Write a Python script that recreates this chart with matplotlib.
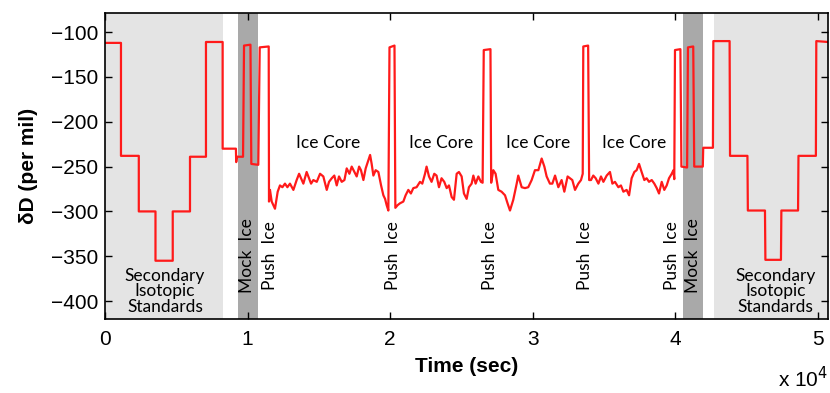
import numpy as np
import matplotlib.pyplot as plt

# time in units of 1e4 sec, dD in per mil
t_std_left = [0.0, 0.112, 0.112, 0.237, 0.237, 0.354, 0.354, 0.475, 0.475, 0.596, 0.596,
              0.708, 0.708, 0.825, 0.825, 0.918, 0.920, 0.925, 0.968, 0.975, 1.020, 1.026,
              1.075, 1.085, 1.148]
d_std_left = [-112, -112, -238, -238, -300, -300, -355, -355, -300, -300, -239,
              -239, -111, -111, -230, -230, -245, -239, -239, -115, -114, -247,
              -248, -117, -116]

t_core1 = [1.150, 1.157, 1.169, 1.192, 1.211, 1.227, 1.244, 1.262, 1.279, 1.297, 1.321, 1.344,
           1.361, 1.375, 1.391, 1.414, 1.426, 1.445, 1.461, 1.485, 1.508, 1.531, 1.555, 1.571,
           1.590, 1.608, 1.625, 1.641, 1.660, 1.679, 1.695, 1.714, 1.730, 1.749, 1.765, 1.782,
           1.795, 1.812, 1.828, 1.847, 1.859, 1.870, 1.882, 1.898, 1.917, 1.936, 1.952, 1.964,
           1.975, 1.987]
d_core1 = [-289, -276, -289, -297, -278, -271, -273, -269, -273, -269, -276, -265,
           -258, -263, -269, -256, -261, -269, -265, -267, -258, -261, -276, -267,
           -263, -260, -271, -261, -267, -265, -252, -258, -250, -256, -261, -250,
           -254, -265, -252, -243, -237, -247, -260, -254, -256, -271, -282, -286,
           -293, -299]

t_push1 = [1.995, 2.030, 2.036]
d_push1 = [-117, -115, -296]

t_core2 = [2.052, 2.068, 2.092, 2.108, 2.127, 2.145, 2.162, 2.185, 2.209, 2.225, 2.244, 2.255,
           2.272, 2.290, 2.309, 2.325, 2.342, 2.360, 2.379, 2.396, 2.412, 2.431, 2.447, 2.466,
           2.482, 2.501, 2.517, 2.536, 2.552, 2.571, 2.583, 2.599, 2.618, 2.636, 2.648]
d_core2 = [-293, -291, -289, -282, -276, -280, -274, -273, -267, -269, -258, -250,
           -261, -267, -258, -260, -273, -263, -267, -274, -271, -284, -287, -258,
           -256, -261, -280, -286, -273, -269, -260, -269, -261, -267, -268]

t_push2 = [2.656, 2.703, 2.708]
d_push2 = [-120, -119, -268]

t_core3 = [2.723, 2.739, 2.758, 2.781, 2.805, 2.823, 2.840, 2.863, 2.887, 2.898, 2.922, 2.945,
           2.968, 2.992, 3.015, 3.039, 3.062, 3.081, 3.097, 3.120, 3.137, 3.156, 3.179, 3.202,
           3.221, 3.244, 3.261, 3.277, 3.296, 3.319, 3.338, 3.350]
d_core3 = [-254, -258, -276, -278, -282, -291, -299, -287, -269, -260, -273, -274,
           -273, -265, -254, -254, -241, -250, -261, -269, -269, -260, -273, -265,
           -278, -261, -263, -265, -276, -269, -265, -258]

t_push3 = [3.354, 3.388, 3.395]
d_push3 = [-116, -115, -265]

t_core4 = [3.408, 3.424, 3.441, 3.460, 3.478, 3.495, 3.518, 3.541, 3.558, 3.576, 3.600, 3.618,
           3.635, 3.658, 3.675, 3.693, 3.712, 3.728, 3.745, 3.763, 3.782, 3.798, 3.815, 3.834,
           3.852, 3.869, 3.885, 3.904, 3.922, 3.939, 3.955, 3.974, 3.986, 3.992]
d_core4 = [-265, -260, -263, -269, -261, -267, -260, -256, -269, -267, -273, -271,
           -278, -276, -282, -263, -256, -254, -247, -256, -265, -263, -267, -265,
           -269, -274, -280, -267, -276, -271, -263, -258, -254, -264]

t_std_right = [3.997, 4.035, 4.042, 4.082, 4.088, 4.125, 4.132, 4.192, 4.195, 4.263, 4.266,
               4.380, 4.383, 4.505, 4.508, 4.628, 4.631, 4.740, 4.743, 4.860, 4.863, 4.985,
               4.988, 5.07]
d_std_right = [-120, -119, -250, -251, -117, -116, -250, -250, -229, -229, -110,
               -110, -238, -238, -299, -299, -354, -354, -299, -299, -238, -238,
               -110, -111]

# shaded regions (x from, x to)
std_spans = [(0.0, 0.825), (4.27, 5.07)]
mock_spans = [(0.93, 1.075), (4.05, 4.195)]

ice_core_x = [1.567, 2.356, 3.04, 3.71]
push_ice_x = [1.157, 2.02, 2.70, 3.366, 3.974]
mock_ice_x = [0.994, 4.125]
std_label_x = [0.42, 4.70]

t = np.concatenate([t_std_left, t_core1, t_push1, t_core2, t_push2, t_core3,
                    t_push3, t_core4, t_std_right])
d = np.concatenate([d_std_left, d_core1, d_push1, d_core2, d_push2, d_core3,
                    d_push3, d_core4, d_std_right])

plt.rcParams['font.family'] = ['Liberation Sans', 'DejaVu Sans']
ann_font = ['Lato', 'DejaVu Sans']

fig = plt.figure(figsize=(8.3, 3.93), dpi=100)
ax = fig.add_axes([105/830, 1 - 319/393, (828-105)/830, (319-13.3)/393])

for a, b in std_spans:
    ax.axvspan(a, b, color='#e4e4e4', lw=0, zorder=0)
for a, b in mock_spans:
    ax.axvspan(a, b, color='#a9a9a9', lw=0, zorder=0)

ax.plot(t, d, color='#ff1a1a', lw=1.6, zorder=2)

for x in ice_core_x:
    ax.text(x, -224, 'Ice Core', ha='center', va='center', fontsize=12.5, family=ann_font)
for x in push_ice_x:
    ax.text(x, -349, 'Push  Ice', ha='center', va='center', rotation=90, fontsize=12.5,
            family=ann_font)
for x in mock_ice_x:
    ax.text(x, -349, 'Mock  Ice', ha='center', va='center', rotation=90, fontsize=12.5,
            family=ann_font)
for x in std_label_x:
    ax.text(x, -389, 'Secondary\nIsotopic\nStandards', ha='center', va='center',
            fontsize=12.5, linespacing=0.95, family=ann_font)

ax.set_xlim(0, 5.07)
ax.set_ylim(-420, -79)
ax.set_xticks([0, 1, 2, 3, 4, 5])
ax.set_yticks([-100, -150, -200, -250, -300, -350, -400])
ax.tick_params(direction='in', length=5, width=1, top=True, right=True, labelsize=15)
ax.tick_params(axis='x', pad=8)
ax.tick_params(axis='y', pad=5)
for s in ax.spines.values():
    s.set_linewidth(1.2)

ax.set_xlabel('Time (sec)', fontsize=15, fontweight='bold', labelpad=6)
ax.set_ylabel('δD (per mil)', fontsize=15, fontweight='bold', labelpad=9)
fig.text(0.998, 0.004, r'x 10$^{4}$', ha='right', va='bottom', fontsize=15)

fig.savefig('out.png', dpi=100)
